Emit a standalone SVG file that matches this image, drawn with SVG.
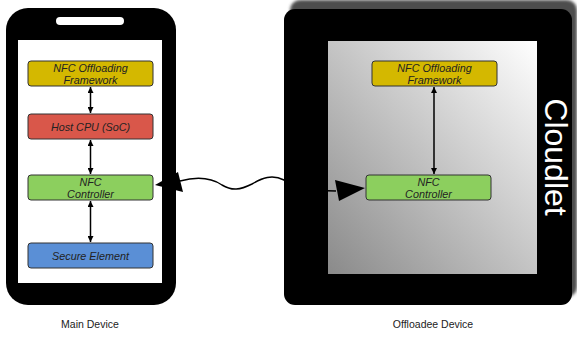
<svg xmlns="http://www.w3.org/2000/svg" width="577" height="339" viewBox="0 0 577 339">
<defs>
<style>
.box{stroke:#333;stroke-width:1}
.t{font-family:"Liberation Sans",Arial,sans-serif;font-size:10.8px;font-style:italic;fill:#222;text-anchor:middle}
.lbl{font-family:"Liberation Sans",Arial,sans-serif;font-size:10.5px;fill:#222;text-anchor:middle}
.ln{stroke:#000;stroke-width:1.5;fill:none}
</style>
<marker id="ah" viewBox="0 0 10 10" refX="10" refY="5" markerWidth="6" markerHeight="6" orient="auto-start-reverse" markerUnits="userSpaceOnUse">
<path d="M0,0 L10,5 L0,10 z" fill="#000"/>
</marker>
<linearGradient id="g" x1="1" y1="0" x2="0" y2="1">
<stop offset="0" stop-color="#ffffff"/>
<stop offset="1" stop-color="#8a8a8a"/>
</linearGradient>
<filter id="blur" x="-5%" y="-5%" width="110%" height="110%"><feGaussianBlur stdDeviation="1.5"/></filter>
</defs>
<rect width="577" height="339" fill="#fff"/>

<g id="main-device">
<rect x="6" y="8" width="170" height="297" rx="22" fill="#000"/>
<rect x="56" y="17" width="68" height="8" rx="4" fill="#fff"/>
<rect x="18" y="40" width="144" height="243" fill="#fff"/>
</g>

<g id="cloudlet">
<rect x="290" y="0" width="287" height="297" rx="10" fill="#4e4e4e" filter="url(#blur)"/>
<rect x="284" y="9" width="288" height="296" rx="11" fill="#000"/>
<rect x="328" y="41" width="209" height="233" fill="url(#g)"/>
<text transform="translate(545,157) rotate(90)" font-family="'Liberation Sans',Arial,sans-serif" font-size="32" fill="#fff" text-anchor="middle">Cloudlet</text>
</g>

<g id="main-framework">
<rect class="box" x="28" y="61" width="125" height="25" rx="3" fill="#d4b800"/>
<text class="t" x="90.5" y="71.5">NFC Offloading</text>
<text class="t" x="90.5" y="83.5">Framework</text>
</g>
<g id="main-cpu">
<rect class="box" x="28" y="114" width="125" height="25" rx="3" fill="#d9574a"/>
<text class="t" x="90.5" y="130.5">Host CPU (SoC)</text>
</g>
<g id="main-nfc">
<rect class="box" x="28" y="175" width="125" height="25" rx="3" fill="#8ccf5e"/>
<text class="t" x="90.5" y="185.5">NFC</text>
<text class="t" x="90.5" y="197.5">Controller</text>
</g>
<g id="main-se">
<rect class="box" x="28" y="243" width="125" height="25" rx="3" fill="#5a8fd6"/>
<text class="t" x="90.5" y="259.5">Secure Element</text>
</g>

<g id="cloud-framework">
<rect class="box" x="372" y="61" width="125" height="25" rx="3" fill="#d4b800"/>
<text class="t" x="434.5" y="71.5">NFC Offloading</text>
<text class="t" x="434.5" y="83.5">Framework</text>
</g>
<g id="cloud-nfc">
<rect class="box" x="366" y="175" width="125" height="25" rx="3" fill="#8ccf5e"/>
<text class="t" x="428.5" y="185.5">NFC</text>
<text class="t" x="428.5" y="197.5">Controller</text>
</g>

<g id="connectors">
<line class="ln" x1="90.5" y1="87" x2="90.5" y2="113" marker-start="url(#ah)" marker-end="url(#ah)"/>
<line class="ln" x1="90.5" y1="140" x2="90.5" y2="174" marker-start="url(#ah)" marker-end="url(#ah)"/>
<line class="ln" x1="90.5" y1="201" x2="90.5" y2="242" marker-start="url(#ah)" marker-end="url(#ah)"/>
<line class="ln" x1="434" y1="87" x2="434" y2="174" marker-start="url(#ah)" marker-end="url(#ah)"/>
<path class="ln" d="M180,181 C195,177 210,177 222,185 C232,191 240,190 252,184 C262,178 272,174 284,180 L300,190 L336,191"/>
<polygon points="155,185 178,172 183,192" fill="#000"/>
<polygon points="365,188 335,180 339,201" fill="#000"/>
</g>

<text class="lbl" x="90" y="328">Main Device</text>
<text class="lbl" x="433" y="328">Offloadee Device</text>
</svg>
